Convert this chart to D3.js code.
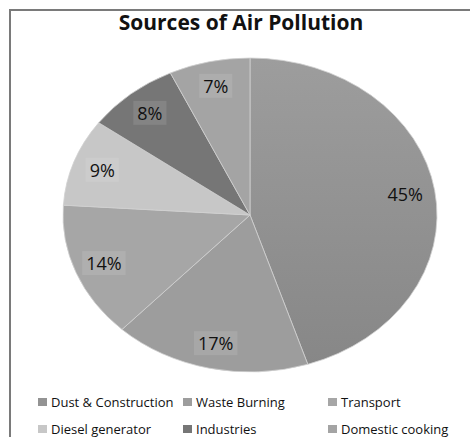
<!DOCTYPE html>
<html>
<head>
<meta charset="utf-8">
<script src="https://cdn.jsdelivr.net/npm/d3@7"></script>
<style>
  html, body { margin: 0; padding: 0; background: #fff; }
  svg { display: block; }
</style>
</head>
<body>
<svg id="chart" width="470" height="437"></svg>
<script>
const title = "Sources of Air Pollution";
const categories = ["Dust & Construction", "Waste Burning", "Transport", "Diesel generator", "Industries", "Domestic cooking"];
const values = [45, 17, 14, 9, 8, 7];
const colors = ["#939393", "#9d9d9d", "#a6a6a6", "#c7c7c7", "#767676", "#a4a4a4"];

const svg = d3.select("#chart");
const W = 470, H = 437;
const font = "'Open Sans', sans-serif";

// frame
svg.append("line").attr("x1", 10).attr("y1", 10).attr("x2", W).attr("y2", 10)
  .attr("stroke", "#7a7a7a").attr("stroke-width", 2);
svg.append("line").attr("x1", 10).attr("y1", 9).attr("x2", 10).attr("y2", H)
  .attr("stroke", "#7a7a7a").attr("stroke-width", 2);

// title
svg.append("text").attr("x", 241).attr("y", 30).attr("text-anchor", "middle")
  .attr("font-family", font).attr("font-weight", "bold").attr("font-size", 21)
  .attr("fill", "#111").text(title);

const cx = 250, cy = 215, rx = 187, ry = 157;
const defs = svg.append("defs");
const grad = defs.append("linearGradient").attr("id", "g0")
  .attr("x1", 0).attr("y1", 0).attr("x2", 0).attr("y2", 1);
grad.append("stop").attr("offset", "0%").attr("stop-color", "#9d9d9d");
grad.append("stop").attr("offset", "100%").attr("stop-color", "#878787");

const pie = d3.pie().sort(null).value(d => d);
const arcs = pie(values);
const arc = d3.arc().innerRadius(0).outerRadius(ry);
const labelArc = d3.arc().innerRadius(ry * 0.84).outerRadius(ry * 0.84);

const g = svg.append("g").attr("transform", `translate(${cx},${cy}) scale(${rx / ry},1)`);
g.selectAll("path").data(arcs).enter().append("path")
  .attr("d", arc)
  .attr("fill", (d, i) => i === 0 ? "url(#g0)" : colors[i])
  .attr("stroke", "#d0d0d0").attr("stroke-width", 0.8)
  .attr("vector-effect", "non-scaling-stroke");

const lg = svg.append("g").attr("transform", `translate(${cx},${cy})`);
arcs.forEach((d, i) => {
  const c = labelArc.centroid(d);
  const x = c[0] * rx / ry, y = c[1];
  const t = lg.append("text").attr("x", x).attr("y", y).attr("dy", "0.36em")
    .attr("text-anchor", "middle").attr("font-family", font).attr("font-size", 18)
    .attr("fill", "#111").text(values[i] + "%");
  if (i > 0) {
    const b = t.node().getBBox();
    lg.insert("rect", "text").attr("x", b.x - 4).attr("y", b.y).attr("width", b.width + 8).attr("height", b.height)
      .attr("fill", "#fff").attr("opacity", 0.1);
  }
});

// legend
const colX = [38, 183, 328];
const rowY = [402, 429];
const leg = svg.append("g");
categories.forEach((c, i) => {
  const x = colX[i % 3], y = rowY[Math.floor(i / 3)];
  leg.append("rect").attr("x", x).attr("y", y - 4).attr("width", 9).attr("height", 8)
    .attr("fill", colors[i]);
  leg.append("text").attr("x", x + 13).attr("y", y).attr("dy", "0.36em")
    .attr("font-family", font).attr("font-size", 13).attr("fill", "#111").text(c);
});
</script>
</body>
</html>
